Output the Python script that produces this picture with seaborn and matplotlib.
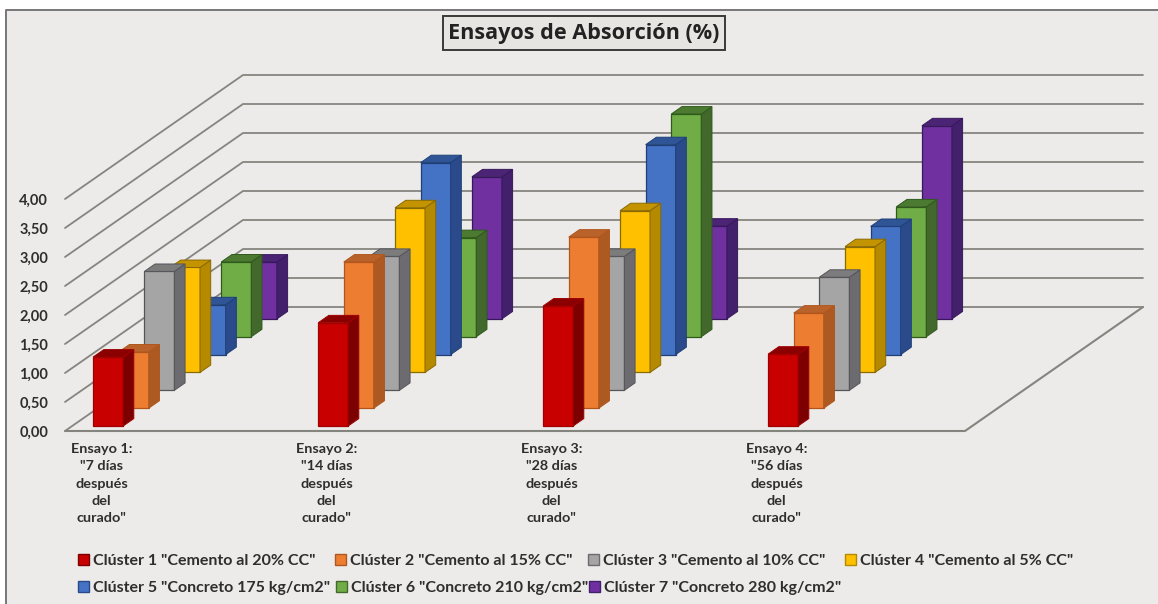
import numpy as np
import pandas as pd
import matplotlib
matplotlib.use('Agg')
import matplotlib.pyplot as plt
from matplotlib.patches import Polygon, Rectangle
import seaborn as sns

# Values
ensayos = ['Ensayo 1:\n"7 días\ndespués\ndel\ncurado"',
           'Ensayo 2:\n"14 días\ndespués\ndel\ncurado"',
           'Ensayo 3:\n"28 días\ndespués\ndel\ncurado"',
           'Ensayo 4:\n"56 días\ndespués\ndel\ncurado"']
clusters = ['Clúster 1 "Cemento al 20% CC"', 'Clúster 2 "Cemento al 15% CC"',
            'Clúster 3 "Cemento al 10% CC"', 'Clúster 4 "Cemento al 5% CC"',
            'Clúster 5 "Concreto 175 kg/cm2"', 'Clúster 6 "Concreto 210 kg/cm2"',
            'Clúster 7 "Concreto 280 kg/cm2"']
cluster1 = [1.19, 1.78, 2.07, 1.24]
cluster2 = [0.97, 2.52, 2.95, 1.64]
cluster3 = [2.05, 2.31, 2.31, 1.95]
cluster4 = [1.81, 2.84, 2.79, 2.17]
cluster5 = [0.86, 3.31, 3.62, 2.21]
cluster6 = [1.29, 1.71, 3.84, 2.24]
cluster7 = [0.98, 2.45, 1.60, 3.33]
series = [cluster1, cluster2, cluster3, cluster4, cluster5, cluster6, cluster7]
y_ticks = [0, 0.5, 1, 1.5, 2, 2.5, 3, 3.5, 4]

front_colors = ['#c80000', '#ed7d31', '#a5a5a5', '#ffc000', '#4472c4', '#70ad47', '#7030a0']
side_colors = ['#7c0000', '#ad5a22', '#6c6c70', '#b58a00', '#2a4a8c', '#43682b', '#42206b']
top_colors = ['#8a0000', '#b9632a', '#7c7c7c', '#c49400', '#2f5597', '#4c7a30', '#4b2476']
edge_colors = ['#a00000', '#b0561c', '#55555a', '#8a6a00', '#1f3f78', '#2f5a1c', '#38185c']

W, H = 1158, 604
px_x = 225.0   # one ensayo along x
px_y = 58.0    # one unit of absorción
x0_px, y0_px = 101.0, 431.0
depth_x = 178.0 / px_x
depth_y = 124.0 / px_y
floor_left, floor_right = -36.0 / px_x, 864.0 / px_x
bar_w = 30.0 / px_x
bar_depth = 0.06
first_depth = 0.04
depth_step = 0.144


def to_x(p):
    return (p - x0_px) / px_x


def to_y(p):
    return (y0_px - p) / px_y


sns.set_theme(style='white')
plt.rcParams['font.family'] = ['Lato', 'DejaVu Sans']

fig = plt.figure(figsize=(W / 100, H / 100), dpi=100, facecolor='white')
ax = fig.add_axes([0, 0, 1, 1])
ax.axis('off')

# paper background of the chart area, only top and left edges show
ax.add_patch(Rectangle((to_x(6), to_y(H)), (W - 6) / px_x, (H - 9.5) / px_y, facecolor='#ecebe9',
                       edgecolor='none', zorder=0))
ax.plot([to_x(6), to_x(6), to_x(W)], [to_y(H), to_y(9.5), to_y(9.5)], color='#77777a', lw=1.4, zorder=1)

# walls and floor
grid_c = '#85857f'
for v in y_ticks:
    ax.plot([floor_left, floor_left + depth_x, floor_right + depth_x],
            [v, v + depth_y, v + depth_y], color=grid_c, lw=1.3, zorder=1)
ax.plot([floor_left, floor_right, floor_right + depth_x], [0, 0, depth_y], color=grid_c, lw=1.5, zorder=1)

# bars from the back row to the front row
for k in range(6, -1, -1):
    d = first_depth + k * depth_step
    base = d * depth_y
    pos = np.arange(len(ensayos)) + d * depth_x
    df = pd.DataFrame({'pos': pos, 'valor': series[k]})
    sns.barplot(data=df, x='pos', y='valor', native_scale=True, width=bar_w, bottom=base,
                color=front_colors[k], saturation=1, edgecolor=edge_colors[k], linewidth=0.9,
                zorder=5 + (6 - k), ax=ax)
    sx = bar_depth * depth_x
    sy = bar_depth * depth_y
    for p, v in zip(pos, series[k]):
        xl, xr = p - bar_w / 2, p + bar_w / 2
        yb, yt = base, base + v
        ax.add_patch(Polygon([(xr, yb), (xr + sx, yb + sy), (xr + sx, yt + sy), (xr, yt)],
                             facecolor=side_colors[k], edgecolor=edge_colors[k], lw=0.7, zorder=5 + (6 - k)))
        ax.add_patch(Polygon([(xl, yt), (xr, yt), (xr + sx, yt + sy), (xl + sx, yt + sy)],
                             facecolor=top_colors[k], edgecolor=edge_colors[k], lw=0.7, zorder=5 + (6 - k)))

ax.set_xlim(to_x(0), to_x(W))
ax.set_ylim(to_y(H), to_y(0))

# axis labels
text_c = '#2e2e2e'
for v in y_ticks:
    ax.text(to_x(48), v - 2 / px_y, f'{v:.2f}'.replace('.', ','), ha='right', va='center',
            fontsize=10.5, fontweight='bold', color=text_c, zorder=20)
for i, lab in enumerate(ensayos):
    ax.text(i + 0.5 / px_x, to_y(443), lab, ha='center', va='top', fontsize=10.4, fontweight='bold',
            color=text_c, linespacing=1.53, zorder=20)

# title box
ax.add_patch(Rectangle((to_x(443), to_y(50)), 282 / px_x, 34 / px_y, facecolor='#e6e5e2',
                       edgecolor='#3a3a3a', lw=1.4, zorder=15))
ax.text(to_x(584), to_y(33.5), 'Ensayos de Absorción (%)', ha='center', va='center', fontsize=15.6,
        fontweight='bold', family='Open Sans', color='#222222', zorder=20)

# legend
legend_x = [78, 335, 588, 845, 78, 336, 589]
legend_y = [560, 560, 560, 560, 587, 587, 587]
for k, lab in enumerate(clusters):
    ax.add_patch(Rectangle((to_x(legend_x[k]), to_y(legend_y[k] + 5)), 11 / px_x, 11 / px_y,
                           facecolor=front_colors[k], edgecolor=side_colors[k], lw=1.0, zorder=15))
    ax.text(to_x(legend_x[k] + 15), to_y(legend_y[k] + 1), lab, ha='left', va='center', fontsize=11.5,
            fontweight='bold', color=text_c, zorder=20)

fig.savefig('out.png', dpi=100, facecolor='white')
